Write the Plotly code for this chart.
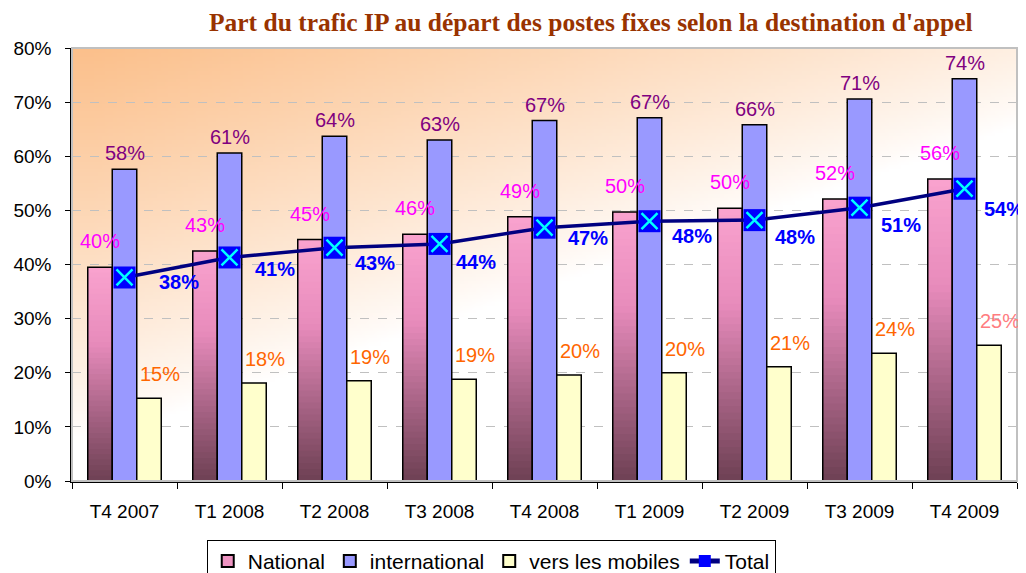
import base64, struct, zlib
import plotly.graph_objects as go

categories = ["T4 2007", "T1 2008", "T2 2008", "T3 2008", "T4 2008",
              "T1 2009", "T2 2009", "T3 2009", "T4 2009"]
national = [39.5, 42.5, 44.6, 45.6, 48.8, 49.7, 50.4, 52.1, 55.8]
national_labels = ["40%", "43%", "45%", "46%", "49%", "50%", "50%", "52%", "56%"]
international = [57.6, 60.6, 63.7, 63.0, 66.6, 67.1, 65.8, 70.6, 74.3]
international_labels = ["58%", "61%", "64%", "63%", "67%", "67%", "66%", "71%", "74%"]
mobiles = [15.3, 18.1, 18.5, 18.8, 19.6, 20.0, 21.1, 23.6, 25.1]
mobiles_labels = ["15%", "18%", "19%", "19%", "20%", "20%", "21%", "24%", "25%"]
total = [37.6, 41.3, 43.1, 43.8, 46.8, 48.0, 48.2, 50.5, 54.0]
total_labels = ["38%", "41%", "43%", "44%", "47%", "48%", "48%", "51%", "54%"]

# label placement offsets (pixels), style only
total_dx = [54, 45, 40, 36, 43, 42, 40, 41, 39]
total_dy = [-5, -12, -15, -18, -10, -15, -17, -17, -20]
mob_colors = ["#FF6600"] * 8 + ["#FF7C80"]

FONT = "Liberation Sans, Arial, sans-serif"
BAR_OFF = 24.5  # px offset of side bars from category centre


# ---------- background gradient image ----------
def gradient_png(w=240, h=120):
    orange = (251, 192, 140)
    rows = []
    for j in range(h):
        v = j / (h - 1)
        row = bytearray([0])
        for i in range(w):
            u = i / (w - 1)
            f = 1 - (0.82 * max(0.0, u - 0.02) + 1.1 * v)
            f = max(0.0, min(1.0, f)) ** 0.85
            for k in range(3):
                row.append(int(round(255 * (1 - f) + orange[k] * f)))
        rows.append(bytes(row))
    raw = b"".join(rows)

    def chunk(t, d):
        c = struct.pack(">I", len(d)) + t + d
        return c + struct.pack(">I", zlib.crc32(t + d) & 0xFFFFFFFF)

    png = b"\x89PNG\r\n\x1a\n"
    png += chunk(b"IHDR", struct.pack(">IIBBBBB", w, h, 8, 2, 0, 0, 0))
    png += chunk(b"IDAT", zlib.compress(raw, 9))
    png += chunk(b"IEND", b"")
    return "data:image/png;base64," + base64.b64encode(png).decode()


def lerp(c1, c2, t):
    return tuple(c1[k] + (c2[k] - c1[k]) * t for k in range(3))


def nat_color(t):
    # t = 0 bottom, 1 top
    stops = [(0.0, (112, 66, 86)), (0.35, (175, 104, 140)),
             (0.65, (232, 140, 188)), (1.0, (249, 162, 206))]
    for (t0, c0), (t1, c1) in zip(stops[:-1], stops[1:]):
        if t <= t1:
            c = lerp(c0, c1, (t - t0) / (t1 - t0))
            return "rgb(%d,%d,%d)" % c
    return "rgb(249,162,206)"


fig = go.Figure()

# legend-only entry for National
fig.add_trace(go.Bar(x=[None], y=[None], name="National", offsetgroup="nat",
                     marker=dict(color="#EE94C2", line=dict(color="black", width=1.5))))

N = 40
for i in range(N):
    fig.add_trace(go.Bar(
        x=categories,
        y=[v * (N - i) / N for v in national],
        base=[v * i / N for v in national],
        offsetgroup="nat", showlegend=False, hoverinfo="skip",
        marker=dict(color=nat_color(i / (N - 1)), line=dict(width=0)),
    ))

fig.add_trace(go.Bar(x=categories, y=national, offsetgroup="nat", showlegend=False,
                     marker=dict(color="rgba(0,0,0,0)", line=dict(color="black", width=1.5))))
fig.add_trace(go.Bar(x=categories, y=international, name="international", offsetgroup="int",
                     marker=dict(color="#9999FF", line=dict(color="black", width=1.5))))
fig.add_trace(go.Bar(x=categories, y=mobiles, name="vers les mobiles", offsetgroup="mob",
                     marker=dict(color="#FFFFCC", line=dict(color="black", width=1.5))))

fig.add_trace(go.Scatter(x=categories, y=total, name="Total", mode="lines+markers",
                         line=dict(color="#000080", width=3.5),
                         marker=dict(symbol="square", size=22, color="#0000FF",
                                     line=dict(width=0))))
fig.add_trace(go.Scatter(x=categories, y=total, mode="markers", showlegend=False,
                         hoverinfo="skip",
                         marker=dict(symbol="x-thin", size=16, color="#00FFFF",
                                     line=dict(color="#00FFFF", width=2.5))))

ann = []
for c, v, t in zip(categories, national, national_labels):
    ann.append(dict(x=c, y=v, text=t, xshift=-BAR_OFF, yshift=26, showarrow=False,
                    font=dict(family=FONT, size=20, color="#FF00FF")))
for c, v, t in zip(categories, international, international_labels):
    ann.append(dict(x=c, y=v, text=t, xshift=0, yshift=16, showarrow=False,
                    font=dict(family=FONT, size=20, color="#800080")))
for c, v, t, col in zip(categories, mobiles, mobiles_labels, mob_colors):
    ann.append(dict(x=c, y=v, text=t, xshift=BAR_OFF + 11, yshift=24, showarrow=False,
                    font=dict(family=FONT, size=20, color=col)))
for c, v, t, dx, dy in zip(categories, total, total_labels, total_dx, total_dy):
    ann.append(dict(x=c, y=v, text="<b>%s</b>" % t, xshift=dx, yshift=dy, showarrow=False,
                    font=dict(family=FONT, size=20, color="#0000FF")))

# page body has an 8px margin: figure is laid out so the visible result lines up
fig.update_layout(
    width=1026, height=573,
    margin=dict(l=64, r=17, t=40, b=100, autoexpand=False),
    paper_bgcolor="white", plot_bgcolor="rgba(0,0,0,0)",
    barmode="group", bargap=0.3, bargroupgap=0,
    title=dict(text="<b>Part du trafic IP au départ des postes fixes selon la destination d'appel</b>",
               x=0.568, xanchor="center", xref="container", yref="container",
               y=0.976, yanchor="middle",
               font=dict(family="Liberation Serif, Times New Roman, serif", size=25.5, color="#993300")),
    font=dict(family=FONT, size=19, color="black"),
    showlegend=True,
    legend=dict(orientation="h", x=0.471, xanchor="center", xref="container",
                y=0.0716, yanchor="top", yref="container",
                bgcolor="white", bordercolor="black", borderwidth=1,
                font=dict(family=FONT, size=21), itemsizing="constant",
                tracegroupgap=0),
    annotations=ann,
    images=[dict(source=gradient_png(), xref="x domain", yref="y domain", x=0, y=1,
                 sizex=1, sizey=1, xanchor="left", yanchor="top", sizing="stretch",
                 layer="below")],
    shapes=[dict(type="rect", xref="x domain", yref="y domain", x0=0, x1=1, y0=0, y1=1,
                 line=dict(color="#C0C0C0", width=2), layer="above")],
)

fig.update_xaxes(type="category", range=[-0.5, len(categories) - 0.5],
                 showline=True, linecolor="black", linewidth=1.5,
                 ticks="outside", tickson="boundaries", ticklen=6, tickcolor="black",
                 showgrid=False, tickfont=dict(family=FONT, size=19), ticklabelstandoff=12,
                 automargin=False)
fig.update_yaxes(range=[0, 80], dtick=10, ticksuffix="%", showline=True, linecolor="black",
                 linewidth=1.5, ticks="outside", ticklen=5, tickcolor="black",
                 showgrid=True, gridcolor="#C0C0C0", griddash="dash", gridwidth=1,
                 zeroline=False, tickfont=dict(family=FONT, size=19), ticklabelstandoff=10,
                 automargin=False)

fig.write_html("out.html")
